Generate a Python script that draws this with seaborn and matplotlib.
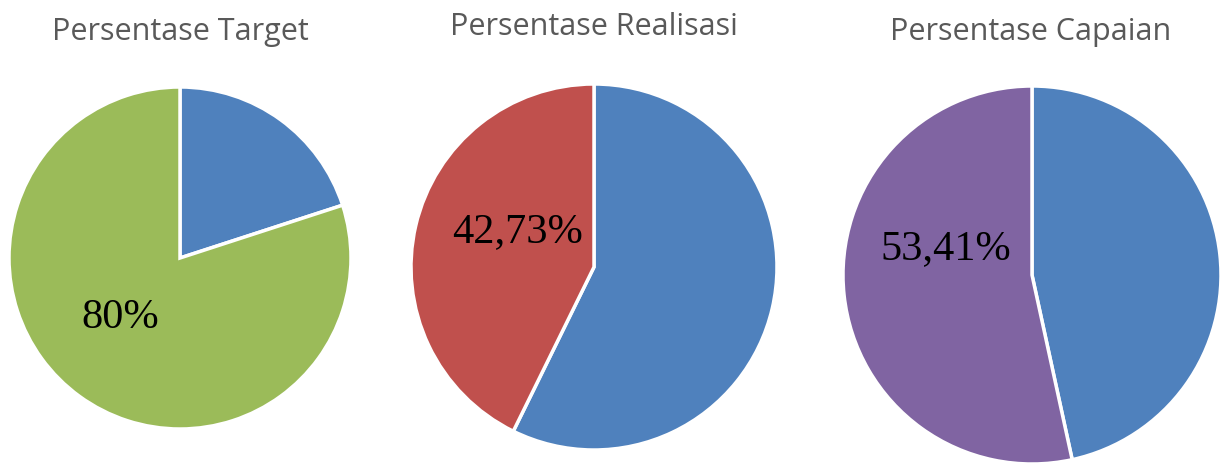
import matplotlib
matplotlib.use("Agg")
import matplotlib.pyplot as plt
import seaborn as sns

sns.set_theme(style="white")
plt.rcParams['font.family'] = ['Open Sans', 'DejaVu Sans']

titles = ["Persentase Target", "Persentase Realisasi", "Persentase Capaian"]
target_values = [20.0, 80.0]
realisasi_values = [57.27, 42.73]
capaian_values = [46.59, 53.41]
label_texts = ["80%", "42,73%", "53,41%"]
colors_target = ["#4F81BD", "#9BBB59"]
colors_realisasi = ["#4F81BD", "#C0504D"]
colors_capaian = ["#4F81BD", "#8064A2"]

W, H = 1223, 463
fig = plt.figure(figsize=(W / 100, H / 100), dpi=100)
fig.patch.set_facecolor("white")

# layout in pixels: center x, center y (from top), radius
layout = [(180, 258, 171), (594, 267, 183), (1032, 275, 189)]
label_pos = [(-0.35, -0.35), (-0.415, 0.19), (-0.455, 0.14)]
title_pos = [(180, 32), (594, 27), (1031, 32)]

series = [target_values, realisasi_values, capaian_values]
pal = [colors_target, colors_realisasi, colors_capaian]

for i in range(3):
    cx, cy, r = layout[i]
    ax = fig.add_axes([(cx - r) / W, (H - cy - r) / H, 2 * r / W, 2 * r / H])
    ax.pie(series[i], colors=pal[i], startangle=90, counterclock=False,
           wedgeprops=dict(edgecolor="white", linewidth=2.5))
    ax.set_xlim(-1.0, 1.0)
    ax.set_ylim(-1.0, 1.0)
    ax.set_aspect("auto")
    ax.axis("off")
    lx, ly = label_pos[i]
    ax.text(lx, ly, label_texts[i], ha="center", va="center",
            family=["Liberation Serif"], fontsize=30.5, color="black")
    tx, ty = title_pos[i]
    fig.text(tx / W, 1 - ty / H, titles[i], ha="center", va="center",
             fontsize=22, color="#595959")

fig.savefig("out.png", dpi=100, facecolor="white")
